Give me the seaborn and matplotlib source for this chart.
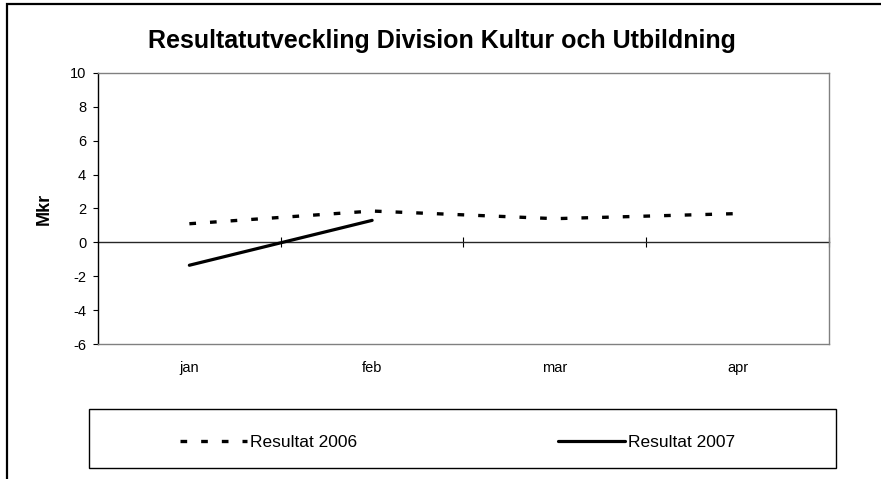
import numpy as np
import pandas as pd
import seaborn as sns
import matplotlib.pyplot as plt
from matplotlib.patches import Rectangle

# Values (Mkr)
months = ['jan', 'feb', 'mar', 'apr']
res_2006 = [1.1, 1.85, 1.4, 1.7]
res_2007 = [-1.35, 1.3, np.nan, np.nan]
y_ticks = [-6, -4, -2, 0, 2, 4, 6, 8, 10]

W, H = 881, 479

sns.set_style('white')
plt.rcParams['font.family'] = ['Liberation Sans', 'DejaVu Sans']
plt.rcParams['axes.unicode_minus'] = False
for key in ['text.color', 'axes.labelcolor', 'xtick.color', 'ytick.color']:
    plt.rcParams[key] = 'black'

df_2006 = pd.DataFrame({'month': months, 'value': res_2006})
df_2007 = pd.DataFrame({'month': months, 'value': res_2007})

fig = plt.figure(figsize=(W / 100, H / 100), dpi=100)
ax = fig.add_axes([98 / W, (H - 344) / H, 731 / W, 271 / H])

sns.lineplot(data=df_2006, x='month', y='value', ax=ax, sort=False,
             color='black', lw=2.4, linestyle=(0, (2.0, 4.2)),
             label='Resultat 2006', legend=False)
sns.lineplot(data=df_2007, x='month', y='value', ax=ax, sort=False,
             color='black', lw=2.3, label='Resultat 2007', legend=False)

ax.set_xlim(-0.5, len(months) - 0.5)
ax.set_ylim(-6, 10)
ax.set_yticks(y_ticks)
ax.set_xlabel('')
ax.set_ylabel('Mkr', fontsize=13, fontweight='bold', labelpad=12)
ax.tick_params(axis='x', length=0, pad=12, labelsize=10.5)
ax.tick_params(axis='y', left=True, direction='out', length=3.5, width=0.8,
               pad=5, labelsize=10.5)

# plot area border: grey, black value axis on the left
for side in ['top', 'right', 'bottom']:
    ax.spines[side].set_color('#808080')
    ax.spines[side].set_linewidth(1.0)
ax.spines['left'].set_color('black')
ax.spines['left'].set_linewidth(1.0)

# category axis crossing at zero, tick marks between categories
zero_loc = (0 - (-6)) / 16
sec = ax.secondary_xaxis(zero_loc)
sec.set_xticks(np.arange(len(months)) + 0.5)
sec.tick_params(direction='inout', length=7, width=0.8, labelbottom=False,
                labeltop=False)
sec.spines['bottom'].set_linewidth(1.0)
sec.spines['top'].set_linewidth(1.0)

fig.text(442 / W, 1 - 41 / H, 'Resultatutveckling Division Kultur och Utbildning',
         ha='center', va='center', fontsize=18, fontweight='bold')

# legend box below the chart
fig.add_artist(Rectangle((89 / W, (H - 468) / H), (836 - 89) / W, 59 / H,
                         transform=fig.transFigure, fill=False,
                         edgecolor='black', lw=1.0))
handles, labels = ax.get_legend_handles_labels()
fig.legend(handles, labels, loc='lower left', ncol=2, mode='expand',
           bbox_to_anchor=(180 / W, (H - 450) / H, (735 - 180) / W, 24 / H),
           frameon=False, fontsize=12.5, handlelength=3.86, handletextpad=0.17,
           borderpad=0, borderaxespad=0)

# outer chart frame (cut off at right and bottom)
fig.add_artist(Rectangle((7 / W, -0.1), 1.2, (H - 4) / H + 0.1,
                         transform=fig.transFigure, fill=False,
                         edgecolor='black', lw=1.6))

fig.savefig('out.png', dpi=100)
